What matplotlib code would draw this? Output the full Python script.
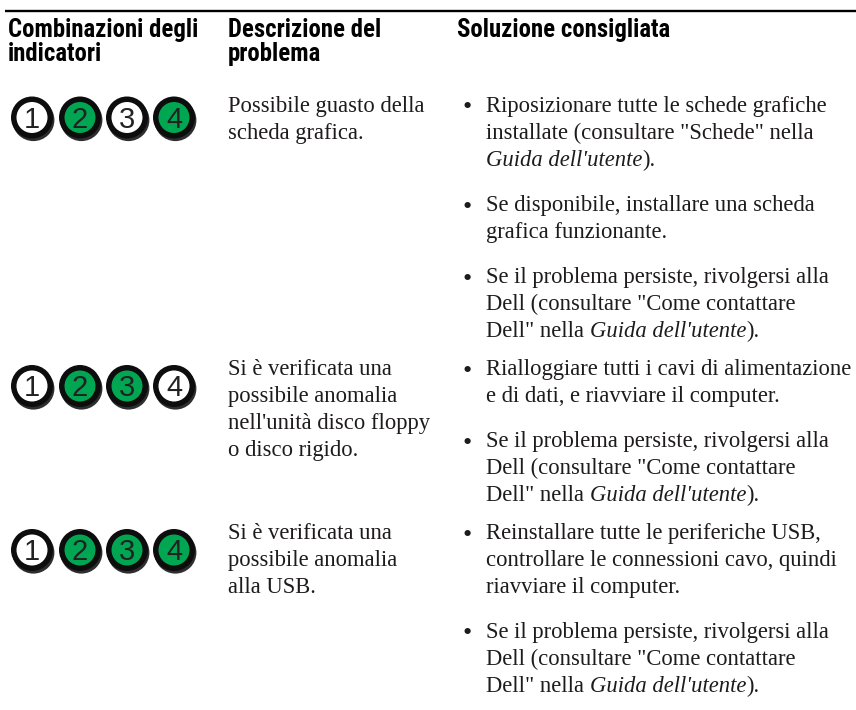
import matplotlib
matplotlib.use("Agg")
import matplotlib.pyplot as plt
from matplotlib.patches import Circle
from matplotlib import font_manager as fm

# ---------------- data ----------------
headers = [["Combinazioni degli", "indicatori"],
           ["Descrizione del", "problema"],
           ["Soluzione consigliata"]]

led_labels = ["1", "2", "3", "4"]
# 1 = green (lit), 0 = white (off)
patterns = [[0, 1, 0, 1],
            [0, 1, 1, 0],
            [0, 1, 1, 1]]

descriptions = [
    ["Possibile guasto della", "scheda grafica."],
    ["Si è verificata una", "possibile anomalia", "nell'unità disco floppy", "o disco rigido."],
    ["Si è verificata una", "possibile anomalia", "alla USB."],
]

solutions = [
    [["Riposizionare tutte le schede grafiche",
      "installate (consultare \"Schede\" nella",
      "*Guida dell'utente*)."],
     ["Se disponibile, installare una scheda",
      "grafica funzionante."],
     ["Se il problema persiste, rivolgersi alla",
      "Dell (consultare \"Come contattare",
      "Dell\" nella *Guida dell'utente*)."]],
    [["Rialloggiare tutti i cavi di alimentazione",
      "e di dati, e riavviare il computer."],
     ["Se il problema persiste, rivolgersi alla",
      "Dell (consultare \"Come contattare",
      "Dell\" nella *Guida dell'utente*)."]],
    [["Reinstallare tutte le periferiche USB,",
      "controllare le connessioni cavo, quindi",
      "riavviare il computer."],
     ["Se il problema persiste, rivolgersi alla",
      "Dell (consultare \"Come contattare",
      "Dell\" nella *Guida dell'utente*)."]],
]

# ---------------- layout ----------------
W, H = 856, 710
fig = plt.figure(figsize=(W / 100, H / 100), dpi=100)
ax = fig.add_axes([0, 0, 1, 1])
ax.set_xlim(0, W)
ax.set_ylim(H, 0)
ax.set_aspect('equal')
ax.axis('off')
renderer = fig.canvas.get_renderer()

available = {f.name for f in fm.fontManager.ttflist}
def pick(cands):
    out = [c for c in cands if c in available]
    return out + ['DejaVu Sans']

head_fam = pick(['Liberation Sans Narrow', 'Roboto Condensed', 'DejaVu Sans Condensed',
                 'Roboto', 'Liberation Sans'])
serif_fam = pick(['Liberation Serif', 'DejaVu Serif'])
num_fam = pick(['Liberation Sans', 'Roboto'])

TXT = '#1e1b1c'
GREEN = '#00a651'

def width(s, **kw):
    t = ax.text(0, 0, s, **kw)
    w = t.get_window_extent(renderer).width
    t.remove()
    return w

def fit_size(s, target, **kw):
    w = width(s, fontsize=20, **kw)
    return 20 * target / w

# top rule
ax.plot([5, W], [11, 11], color='black', lw=1.7, solid_capstyle='butt')

# headers
hsize = fit_size("Combinazioni degli", 190, family=head_fam, weight='bold')
head_x = [8, 228, 457]
for hx, lines in zip(head_x, headers):
    for i, s in enumerate(lines):
        ax.text(hx, 37 + i * 24, s, fontsize=hsize, family=head_fam, weight='bold',
                color='black', ha='left', va='baseline')

# body text
bsize = fit_size("Rialloggiare tutti i cavi di alimentazione", 367, family=serif_fam)

def adv(s, style):
    return width(s + 'l', fontsize=bsize, family=serif_fam, style=style) - \
        width('l', fontsize=bsize, family=serif_fam, style=style)

def draw_line(x, y, s):
    parts = s.split('*')
    for i, p in enumerate(parts):
        if not p:
            continue
        style = 'italic' if i % 2 else 'normal'
        ax.text(x, y, p, fontsize=bsize, family=serif_fam, style=style,
                color=TXT, ha='left', va='baseline')
        x += adv(p, style)

L = 27.0      # line step
P = 45.0      # step between bullet paragraphs
G = 38.0      # step between rows
DESC_X = 228
BUL_X = 467
SOL_X = 486
LED_X = [32, 80, 127, 174]
LED_DY = [5.5, 11, 11]
R_OUT, R_IN = 21.0, 15.5
nsize = 21

def draw_led(cx, cy, on, label):
    ax.add_patch(Circle((cx + 1.4, cy + 2.6), R_OUT, color='#2e2e2e', zorder=2, lw=0))
    ax.add_patch(Circle((cx, cy), R_OUT, color='#0d0d0d', zorder=3, lw=0))
    ax.add_patch(Circle((cx, cy), R_IN, color=GREEN if on else 'white', zorder=4, lw=0))
    dh = 0.716 * nsize / 0.72
    ax.text(cx, cy + dh / 2, label, fontsize=nsize, family=num_fam,
            color='#222222', ha='center', va='baseline', zorder=5)

y = 112
for r in range(len(patterns)):
    row_y = y
    for cx, on, lab in zip(LED_X, patterns[r], led_labels):
        draw_led(cx, row_y + LED_DY[r], on, lab)
    for i, s in enumerate(descriptions[r]):
        draw_line(DESC_X, row_y + i * L, s)
    yy = row_y
    for k, para in enumerate(solutions[r]):
        if k > 0:
            yy += P
        ax.text(BUL_X, yy + 2.5, "•", fontsize=bsize * 1.15, family=serif_fam, color=TXT,
                ha='center', va='baseline')
        for i, s in enumerate(para):
            if i > 0:
                yy += L
            draw_line(SOL_X, yy, s)
    y = yy + G

fig.savefig("out.png", dpi=100, facecolor='white')
